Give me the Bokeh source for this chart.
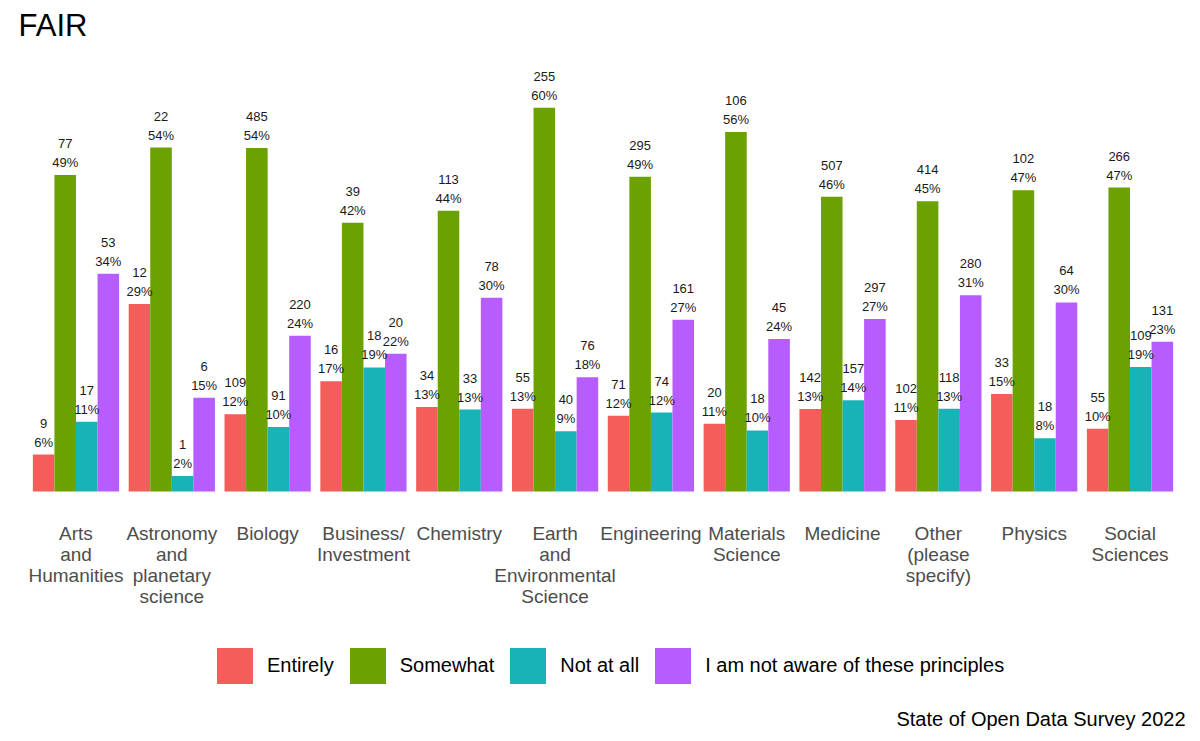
from bokeh.plotting import figure
from bokeh.layouts import column
from bokeh.models import (ColumnDataSource, FactorRange, Range1d, Legend, LegendItem,
                          LabelSet, Label)
from bokeh.core.properties import value
from bokeh.transform import dodge
from bokeh.embed import file_html
from bokeh.resources import INLINE

# ---- data (counts and percentage labels) ----
categories = ["Arts\nand\nHumanities", "Astronomy\nand\nplanetary\nscience", "Biology",
              "Business/\nInvestment", "Chemistry", "Earth\nand\nEnvironmental\nScience",
              "Engineering", "Materials\nScience", "Medicine", "Other\n(please\nspecify)",
              "Physics", "Social\nSciences"]
series_names = ["Entirely", "Somewhat", "Not at all", "I am not aware of these principles"]
entirely = [9, 12, 109, 16, 34, 55, 71, 20, 142, 102, 33, 55]
somewhat = [77, 22, 485, 39, 113, 255, 295, 106, 507, 414, 102, 266]
not_at_all = [17, 1, 91, 18, 33, 40, 74, 18, 157, 118, 18, 109]
not_aware = [53, 6, 220, 20, 78, 76, 161, 45, 297, 280, 64, 131]
entirely_pct = [6, 29, 12, 17, 13, 13, 12, 11, 13, 11, 15, 10]
somewhat_pct = [49, 54, 54, 42, 44, 60, 49, 56, 46, 45, 47, 47]
not_at_all_pct = [11, 2, 10, 19, 13, 9, 12, 10, 14, 13, 8, 19]
not_aware_pct = [34, 15, 24, 22, 30, 18, 27, 24, 27, 31, 30, 23]
colors = ["#F35E5A", "#6BA100", "#18B3B7", "#B75CFF"]

FONT = "Liberation Sans"
series = [entirely, somewhat, not_at_all, not_aware]
series_pct = [entirely_pct, somewhat_pct, not_at_all_pct, not_aware_pct]
totals = [sum(v) for v in zip(*series)]

W, H1, H2 = 1200, 609, 127
p = figure(width=W, height=H1, output_backend="svg", toolbar_location=None,
           x_range=FactorRange(*categories, range_padding=0.2 / 12),
           y_range=Range1d(-2.96, 69.26),
           min_border_left=18, min_border_right=13, min_border_top=0,
           min_border_bottom=0)
p.title.text = "FAIR"
p.title.text_font = FONT
p.title.text_font_size = "31px"
p.title.text_font_style = "normal"
p.title.text_color = "#000000"
p.title.offset = 0

p.xgrid.visible = False
p.ygrid.visible = False
p.yaxis.visible = False
p.outline_line_color = None
p.xaxis.axis_line_color = None
p.xaxis.major_tick_line_color = None
p.xaxis.minor_tick_line_color = None
p.xaxis.major_label_text_font = FONT
p.xaxis.major_label_text_font_size = "19px"
p.xaxis.major_label_text_color = "#4D4D4D"
p.xaxis.major_label_text_line_height = 1.0
p.xaxis.major_label_standoff = 6

width = 0.225
offsets = [-0.3375, -0.1125, 0.1125, 0.3375]
for name, vals, pl, col, off in zip(series_names, series, series_pct, colors, offsets):
    share = [100.0 * v / t for v, t in zip(vals, totals)]
    src = ColumnDataSource(dict(cat=categories, share=share, count=[str(v) for v in vals],
                                pct_label=["%d%%" % x for x in pl]))
    p.vbar(x=dodge("cat", off, range=p.x_range), top="share", bottom=0, width=width,
           source=src, fill_color=col, line_color=None)
    for field, yoff in (("pct_label", 8), ("count", 27)):
        p.add_layout(LabelSet(x=dodge("cat", off, range=p.x_range), y="share", text=field,
                              source=src, y_offset=yoff, text_align="center",
                              text_baseline="alphabetic", text_font=value(FONT),
                              text_font_size="13px", text_color="#1A1A1A"))

# ---- legend + caption strip ----
q = figure(width=W, height=H2, output_backend="svg", toolbar_location=None,
           x_range=Range1d(0, 1), y_range=Range1d(0, 1),
           x_axis_type=None, y_axis_type=None,
           min_border_left=18, min_border_right=13, min_border_top=0, min_border_bottom=0)
q.xgrid.visible = False
q.ygrid.visible = False
q.outline_line_color = None
key_src = ColumnDataSource(dict(name=series_names, color=colors))
key = q.vbar(x=0.5, top=0, bottom=0, width=0, source=key_src,
             fill_color="color", line_color=None)
items = [LegendItem(label=name, renderers=[key], index=i)
         for i, name in enumerate(series_names)]
legend = Legend(items=items, orientation="horizontal", location=(194, 48),
                glyph_width=45, glyph_height=45, label_text_font=FONT,
                label_text_font_size="20px", label_text_color="#000000",
                label_standoff=10, spacing=11, padding=0, margin=0,
                border_line_color=None, background_fill_alpha=0)
q.add_layout(legend)

q.add_layout(Label(x=0.9983, y=0.1417, text="State of Open Data Survey 2022",
                   text_align="right", text_baseline="middle", text_font=FONT,
                   text_font_size="20px", text_color="#000000"))

page = column(p, q)
open("out.html", "w").write(file_html(page, INLINE))
